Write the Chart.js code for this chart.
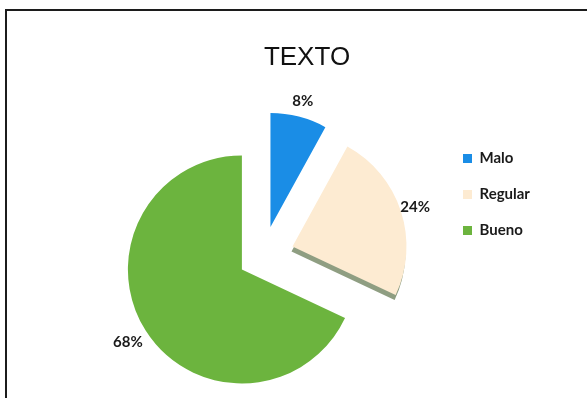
<!DOCTYPE html>
<html lang="es">
<head>
<meta charset="UTF-8">
<title>TEXTO</title>
<script src="https://cdn.jsdelivr.net/npm/chart.js"></script>
<style>
  html, body { margin: 0; padding: 0; background: #fff; }
  #wrap { position: relative; width: 587px; height: 398px; overflow: hidden; }
  #frame { position: absolute; left: 5px; top: 9px; width: 640px; height: 440px;
           border-left: 2px solid #1c1c1c; border-top: 2px solid #1c1c1c; pointer-events: none; }
  canvas { position: absolute; left: 0; top: 0; }
</style>
</head>
<body>
<div id="wrap">
  <canvas id="pieChart" width="587" height="398"></canvas>
  <div id="frame"></div>
</div>
<script>
// data
const categories = ['Malo', 'Regular', 'Bueno'];
const percentages = [8, 24, 68];

// styles
const sliceColors = ['#1a8de6', '#fdebd2', '#6cb43e'];
const explode = [30, 31, 25];              // px each slice is pulled out
const depthColors = [null, '#8f9e82', null]; // 3d side, only visible on Regular
const labelRadius = 160;                   // % labels, from the pie centre

// pulls slices out along their bisector (like Excel's exploded pie)
const explodeSlices = {
    id: 'explodeSlices',
    afterDatasetUpdate(chart, args) {
        args.meta.data.forEach((arc, i) => {
            const mid = (arc.startAngle + arc.endAngle) / 2;
            arc.x += Math.cos(mid) * explode[i];
            arc.y += Math.sin(mid) * explode[i];
        });
    }
};

// thin darker copy below a slice to fake the 3d edge
const sliceDepth = {
    id: 'sliceDepth',
    beforeDatasetsDraw(chart) {
        const ctx = chart.ctx;
        chart.getDatasetMeta(0).data.forEach((arc, i) => {
            if (!depthColors[i]) return;
            const ghost = Object.create(arc);
            ghost.options = Object.assign({}, arc.options, { backgroundColor: depthColors[i], borderWidth: 0 });
            ctx.save();
            ctx.translate(-1, 5);
            arc.draw.call(ghost, ctx);
            ctx.restore();
        });
    }
};

const percentLabels = {
    id: 'percentLabels',
    afterDatasetsDraw(chart) {
        const ctx = chart.ctx;
        const meta = chart.getDatasetMeta(0);
        const cx = (chart.chartArea.left + chart.chartArea.right) / 2;
        const cy = (chart.chartArea.top + chart.chartArea.bottom) / 2;
        ctx.save();
        ctx.font = 'bold 15px Lato';
        ctx.fillStyle = '#1a1a1a';
        ctx.textAlign = 'center';
        ctx.textBaseline = 'middle';
        meta.data.forEach((arc, i) => {
            const mid = (arc.startAngle + arc.endAngle) / 2;
            ctx.fillText(percentages[i] + '%', cx + Math.cos(mid) * labelRadius, cy + Math.sin(mid) * labelRadius);
        });
        ctx.restore();
    }
};

const ctx = document.getElementById('pieChart').getContext('2d');
new Chart(ctx, {
    type: 'pie',
    data: {
        labels: categories,
        datasets: [{
            data: percentages,
            backgroundColor: sliceColors,
            borderWidth: 0,
            radius: 114,
            clip: false
        }]
    },
    options: {
        responsive: false,
        animation: false,
        layout: {
            padding: { left: 84, right: 57, top: 0, bottom: 9 }
        },
        plugins: {
            title: {
                display: true,
                text: 'TEXTO',
                color: '#111',
                font: { family: 'Liberation Sans', size: 26, weight: 'normal' },
                padding: { top: 42, bottom: 50 }
            },
            legend: {
                position: 'right',
                maxWidth: 88,
                labels: {
                    boxWidth: 9,
                    boxHeight: 9,
                    padding: 21,
                    color: '#1a1a1a',
                    font: { family: 'Lato', size: 15, weight: 'bold' }
                }
            },
            tooltip: { enabled: false }
        }
    },
    plugins: [explodeSlices, sliceDepth, percentLabels]
});
</script>
</body>
</html>
